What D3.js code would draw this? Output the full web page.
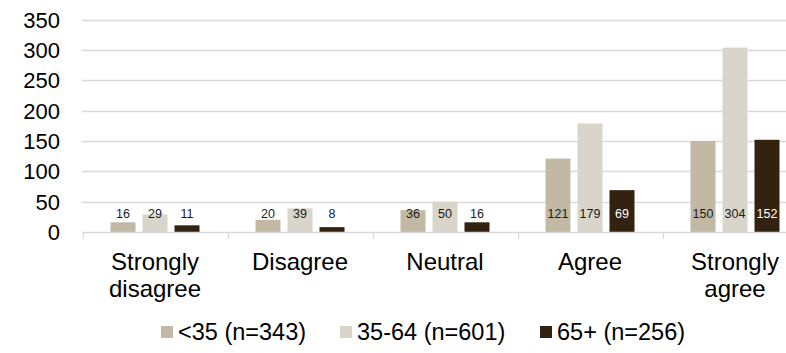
<!DOCTYPE html>
<html><head><meta charset="utf-8">
<script src="https://cdn.jsdelivr.net/npm/d3@7"></script>
<style>body{margin:0;background:#fff}svg{display:block}text{font-family:"Liberation Sans",Arial,sans-serif}</style>
</head><body><svg id="c" width="786" height="353"></svg>
<script>
const categories = [["Strongly","disagree"],["Disagree"],["Neutral"],["Agree"],["Strongly","agree"]];
const seriesNames = ["<35 (n=343)","35-64 (n=601)","65+ (n=256)"];
const under35 = [16,20,36,121,150];
const mid3564 = [29,39,50,179,304];
const over65 = [11,8,16,69,152];
const yTicks = [0,50,100,150,200,250,300,350];
const colors = ["#c2b9a5","#d9d5cb","#33220f"];
const labelColors = ["#1a1a1a","#1a1a1a","#ffffff"];

const series = [under35, mid3564, over65];
const svg = d3.select("#c");
const L = 82.5, R = 807.5, T = 19.7, B = 232;
const x0 = d3.scaleBand().domain(d3.range(categories.length)).range([L, R]).paddingInner(0).paddingOuter(0);
const x1 = d3.scaleBand().domain(d3.range(series.length)).range([0, 89]).paddingInner(7/32).paddingOuter(0);
const y = d3.scaleLinear().domain([0, 350]).range([B, T]);

// gridlines
svg.append("g").selectAll("line").data(yTicks.slice(1)).join("line")
  .attr("x1", L - 0.5).attr("x2", 786).attr("y1", d => Math.round(y(d)) + 0.5).attr("y2", d => Math.round(y(d)) + 0.5)
  .attr("stroke", "#d9d9d9").attr("stroke-width", 1.3);

// y labels
svg.append("g").selectAll("text").data(yTicks).join("text")
  .attr("x", 60).attr("y", d => y(d) + 8).attr("text-anchor", "end")
  .attr("font-size", 22).attr("fill", "#000").text(d => d);

// bars
const groupOffset = (x0.bandwidth() - 89) / 2;
series.forEach((vals, s) => {
  const g = svg.append("g");
  g.selectAll("rect").data(vals).join("rect")
    .attr("x", (d, i) => x0(i) + groupOffset + x1(s))
    .attr("width", x1.bandwidth())
    .attr("y", d => y(d)).attr("height", d => B - y(d))
    .attr("fill", colors[s]);
  g.selectAll("text").data(vals).join("text")
    .attr("x", (d, i) => x0(i) + groupOffset + x1(s) + x1.bandwidth() / 2)
    .attr("y", 218).attr("text-anchor", "middle").attr("font-size", 12.5)
    .attr("fill", d => (y(d) < 205 ? labelColors[s] : "#1a1a1a"))
    .text(d => d);
});

// x axis baseline and ticks
svg.append("line").attr("x1", L - 0.5).attr("x2", 786).attr("y1", B + 0.5).attr("y2", B + 0.5)
  .attr("stroke", "#d9d9d9").attr("stroke-width", 1.3);
svg.append("g").selectAll("line").data(d3.range(categories.length + 1)).join("line")
  .attr("x1", i => Math.round(L + i * x0.step()) + 0.5).attr("x2", i => Math.round(L + i * x0.step()) + 0.5)
  .attr("y1", B).attr("y2", B + 7).attr("stroke", "#d9d9d9").attr("stroke-width", 1.3);

// category labels
svg.append("g").selectAll("text").data(categories).join("text")
  .attr("text-anchor", "middle").attr("font-size", 24).attr("fill", "#000")
  .each(function(lines, i) {
    const t = d3.select(this);
    lines.forEach((ln, k) => t.append("tspan").attr("x", x0(i) + x0.bandwidth() / 2).attr("y", 269.5 + k * 27).text(ln));
  });

// legend
const legendX = [161, 340, 540];
const lg = svg.append("g");
seriesNames.forEach((n, s) => {
  lg.append("rect").attr("x", legendX[s]).attr("y", 326).attr("width", 12).attr("height", 12).attr("fill", colors[s]);
  lg.append("text").attr("x", legendX[s] + 17).attr("y", 339.5).attr("font-size", 23.5).attr("fill", "#000").text(n);
});
</script></body></html>
